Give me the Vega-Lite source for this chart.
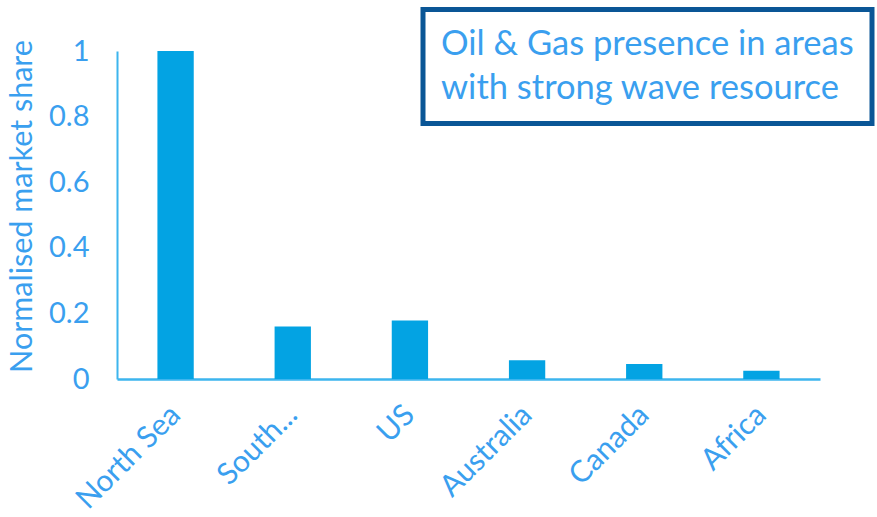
{
  "$schema": "https://vega.github.io/schema/vega-lite/v6.json",
  "width": 703,
  "height": 328,
  "autosize": "none",
  "padding": {"left": 117, "top": 51, "right": 57, "bottom": 138},
  "background": "white",
  "data": {
    "values": [
      {"region": "North Sea", "share": 1.0, "series": "Oil & Gas"},
      {"region": "South...", "share": 0.16, "series": "Oil & Gas"},
      {"region": "US", "share": 0.178, "series": "Oil & Gas"},
      {"region": "Australia", "share": 0.057, "series": "Oil & Gas"},
      {"region": "Canada", "share": 0.046, "series": "Oil & Gas"},
      {"region": "Africa", "share": 0.025, "series": "Oil & Gas"}
    ]
  },
  "mark": {"type": "bar"},
  "encoding": {
    "x": {
      "field": "region",
      "type": "nominal",
      "sort": null,
      "scale": {"paddingInner": 0.69, "paddingOuter": 0.345},
      "axis": {
        "title": null,
        "labelAngle": -45,
        "labelAlign": "right",
        "labelBaseline": "middle",
        "labelPadding": 31,
        "labelFont": "Lato",
        "labelFontSize": 30,
        "labelColor": "#3A9FEF",
        "labelLimit": 300,
        "ticks": false,
        "domainColor": "#3DB5EE",
        "domainWidth": 2.5
      }
    },
    "y": {
      "field": "share",
      "type": "quantitative",
      "scale": {"domain": [0, 1], "nice": false},
      "axis": {
        "values": [0, 0.2, 0.4, 0.6, 0.8, 1],
        "format": ".1~f",
        "grid": false,
        "ticks": false,
        "labelPadding": 28,
        "labelFont": "Lato",
        "labelFontSize": 29,
        "labelColor": "#3A9FEF",
        "domainColor": "#3DB5EE",
        "domainWidth": 2,
        "title": "Normalised market share",
        "titleFont": "Lato",
        "titleFontSize": 30.5,
        "titleFontWeight": "normal",
        "titleColor": "#3A9FEF",
        "titleLimit": 500,
        "titleX": -95,
        "titleY": 155,
        "titleAlign": "center",
        "titleBaseline": "middle"
      }
    },
    "color": {
      "field": "series",
      "type": "nominal",
      "scale": {"range": ["#03A3E3"]},
      "legend": {
        "title": ["Oil & Gas presence in areas", "with strong wave resource"],
        "orient": "none",
        "legendX": 306,
        "legendY": -41.5,
        "values": [],
        "padding": 18,
        "strokeColor": "#0A5696",
        "titleFont": "Lato",
        "titleFontSize": 34.5,
        "titleFontWeight": "normal",
        "titleColor": "#3A9FEF",
        "titleLineHeight": 44,
        "titleLimit": 700,
        "titlePadding": 0,
        "symbolSize": 0,
        "labelFontSize": 0,
        "encode": {"legend": {"update": {"strokeWidth": {"value": 5}}}}
      }
    }
  },
  "config": {"view": {"stroke": null}}
}
